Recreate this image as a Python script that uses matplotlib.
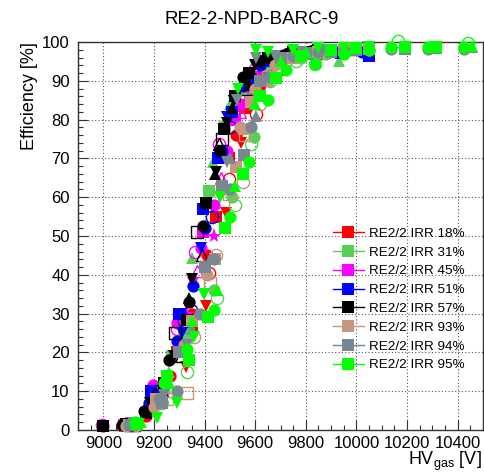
import matplotlib
matplotlib.use("Agg")
import matplotlib.pyplot as plt
from matplotlib.lines import Line2D
from matplotlib.ticker import MultipleLocator

plt.rcParams['font.family'] = ['Liberation Sans', 'DejaVu Sans']

title = "RE2-2-NPD-BARC-9"
labels = ["RE2/2 IRR 18%", "RE2/2 IRR 31%", "RE2/2 IRR 45%", "RE2/2 IRR 51%",
          "RE2/2 IRR 57%", "RE2/2 IRR 93%", "RE2/2 IRR 94%", "RE2/2 IRR 95%"]
colors = ["#ff0000", "#55d155", "#ff00ff", "#0000ff",
          "#000000", "#c6977c", "#788791", "#00ff00"]

# HV scans (V) and efficiencies (%) per chamber, one inner list per scan
irr18_hv = [[9075, 9170, 9265, 9352, 9410, 9470, 9525, 9580, 9650, 9750, 9850, 9950],
            [9085, 9185, 9290, 9352, 9444, 9495, 9560, 9620, 9700, 9800, 9900, 10000],
            [9095, 9200, 9325, 9404, 9483, 9545, 9622, 9690, 9790, 9890, 9990],
            [9105, 9215, 9310, 9416, 9495, 9602, 9700, 9850]]
irr18_eff = [[1.2, 3.5, 14, 30, 45, 63, 76, 86, 93, 96.5, 97.5, 98],
             [1.0, 5.0, 20, 26, 54.8, 70, 83, 91, 95.5, 97, 97.5, 98],
             [1.3, 6.5, 16.3, 32, 56, 74, 87, 94, 96.8, 97.5, 97.8],
             [1.5, 9, 22, 40.5, 64.6, 81.4, 93, 97]]
irr18_mk = ["o", "s", "v", "o_open"]

irr31_hv = [[9090, 9190, 9260, 9352, 9432, 9500, 9570, 9650, 9750, 9850, 9930],
            [9100, 9200, 9270, 9320, 9416, 9480, 9560, 9640, 9720, 9820],
            [9110, 9230, 9330, 9450, 9520, 9583, 9660, 9760, 9835],
            [9120, 9240, 9340, 9436, 9510, 9595, 9680, 9780, 9880]]
irr31_eff = [[1.0, 5, 15, 44.4, 69, 84, 92, 95.5, 96.5, 97.2, 95],
             [1.3, 7, 19, 25, 61.5, 78, 88, 94, 96, 97.5],
             [1.2, 7, 15, 34, 58, 73.6, 90, 95, 94.3],
             [1.5, 10, 24, 36, 60, 75.5, 91, 96, 97]]
irr31_mk = ["^", "s", "o_open", "o"]

irr45_hv = [[9000, 9095, 9195, 9293, 9384, 9436, 9490, 9545, 9600, 9700, 9800, 9900, 10000],
            [9080, 9190, 9300, 9392, 9470, 9520, 9580, 9650, 9750, 9850, 9950],
            [9090, 9200, 9300, 9356, 9460, 9510, 9570, 9640, 9740, 9840],
            [8995, 9090, 9180, 9290, 9364, 9456, 9525, 9600, 9700],
            [9200, 9330, 9436, 9560],
            [9100, 9220, 9330, 9370, 9464, 9540, 9620]]
irr45_eff = [[1, 1.8, 11.6, 27.6, 47, 58, 72, 84, 91, 96, 97.5, 98, 98.5],
             [1.2, 8, 29, 51, 71.6, 80, 90, 95, 97, 97.8, 98],
             [1.0, 9, 22, 38, 60, 79.7, 88, 94, 96.8, 97.6],
             [1.2, 1.5, 6, 26, 46, 73.6, 83, 93, 96.5],
             [7, 30, 50, 84],
             [1.2, 8, 28, 41, 65, 82, 92]]
irr45_mk = ["o", "s", "v", "o_open", "*", "^_open"]

irr51_hv = [[8998, 9090, 9190, 9298, 9392, 9455, 9510, 9570, 9640, 9740, 9840, 9940, 10050],
            [9080, 9180, 9293, 9356, 9400, 9470, 9551, 9620, 9720, 9820, 9920, 10020],
            [9100, 9200, 9310, 9384, 9490, 9516, 9580, 9660, 9760, 9860, 9960],
            [9105, 9210, 9320, 9345, 9430, 9500, 9580, 9680]]
irr51_eff = [[1, 1.5, 10, 30, 57, 70, 82, 90, 95, 97, 97.5, 97.2, 96.5],
             [1.2, 7, 23, 37, 52, 72, 88.6, 94, 96.5, 97.5, 97.3, 97.5],
             [1.3, 9, 25, 47, 80.6, 84.7, 92, 95.5, 97, 97.8, 97],
             [1.5, 10, 28, 31, 55, 78, 91, 96]]
irr51_mk = ["s", "o", "v", "o_open"]

irr57_hv = [[9000, 9090, 9170, 9238, 9330, 9404, 9476, 9520, 9575, 9650, 9750, 9850],
            [9075, 9160, 9260, 9340, 9392, 9460, 9551, 9620, 9720, 9820],
            [9085, 9185, 9280, 9352, 9444, 9490, 9516, 9600, 9700, 9800, 9900],
            [9100, 9200, 9300, 9337, 9440, 9510, 9575, 9670, 9770, 9870],
            [9110, 9220, 9285, 9372, 9470, 9560],
            [9120, 9230, 9305, 9390, 9456]]
irr57_eff = [[1, 1.5, 4.4, 12, 28.4, 58.6, 77.5, 86, 92, 96, 97.5, 98],
             [1.3, 5, 18, 33, 52.5, 72, 91, 95, 97, 97.8],
             [1.0, 7, 19, 39, 66.6, 79, 84.7, 94, 96.5, 97.5, 98],
             [1.2, 8, 20, 34, 66, 83, 89, 96, 97, 97.8],
             [1.5, 9, 25, 51, 75, 88],
             [1.3, 10, 19, 45, 73.6]]
irr57_mk = ["s", "o", "v", "^", "s_open", "^_open"]

irr93_hv = [[9100, 9210, 9300, 9350, 9440, 9523, 9555, 9583, 9650, 9750, 9850, 9950, 10050],
            [9090, 9200, 9320, 9410, 9480, 9540, 9600, 9680, 9780, 9880, 9980],
            [9120, 9250, 9330, 9420, 9495, 9560, 9650],
            [9130, 9260, 9360, 9445, 9550, 9620, 9720]]
irr93_eff = [[1.2, 8, 20, 28, 44, 67.7, 77.5, 84.5, 90, 96, 97.5, 98, 98.2],
             [1.0, 6, 22, 40, 62, 78, 88, 94, 97, 97.8, 98],
             [1.5, 8, 9.5, 38, 60.7, 76, 91],
             [1.3, 10, 24, 45, 64, 84, 95]]
irr93_mk = ["s", "o", "s_open", "o_open"]

irr94_hv = [[9100, 9220, 9293, 9380, 9436, 9500, 9583, 9650, 9750, 9850, 9950, 10050, 10138, 10284, 10424],
            [9110, 9230, 9300, 9400, 9470, 9555, 9620, 9700, 9800, 9900, 10000, 10190, 10316],
            [9120, 9240, 9330, 9397, 9490, 9530, 9602, 9680, 9780, 9880],
            [9130, 9260, 9350, 9420, 9500, 9602, 9700, 9800, 9900, 10455]]
irr94_eff = [[1.3, 8, 10, 30, 44, 62, 78, 91, 96.5, 97.5, 97.8, 98, 98.3, 98.3, 98.3],
             [1.2, 7, 20, 42, 63, 71, 90, 96, 97.2, 97.5, 98, 98.3, 98.5],
             [1.5, 9, 22, 35, 69, 85, 96, 96.5, 97.5, 98],
             [1.5, 12, 26, 44, 70, 81, 95, 97, 97.8, 98.6]]
irr94_mk = ["o", "s", "v", "^"]

irr95_hv = [[9125, 9240, 9330, 9436, 9500, 9575, 9650, 9722, 9835, 9950, 10050, 10138, 10284, 10424],
            [9135, 9250, 9340, 9415, 9480, 9550, 9620, 9682, 9780, 9900, 10000, 10190, 10316],
            [9140, 9213, 9293, 9360, 9397, 9460, 9531, 9602, 9650, 9750, 9850, 9950, 10050],
            [9150, 9260, 9350, 9450, 9520, 9600, 9700, 9800, 9900, 10000, 10455],
            [10166, 10440]]
irr95_eff = [[2, 12, 21, 31, 55, 69, 85, 92.8, 94.3, 97, 98, 98.7, 98.7, 98.8],
             [1.5, 14, 18, 29, 52, 66, 86, 90.7, 96.5, 98, 98.4, 98.6, 98.6],
             [1.5, 3, 7, 24, 35, 60, 87.8, 98, 97.5, 98, 98.5, 98.5, 98.6],
             [2, 12, 28, 36, 63, 84, 95, 97.5, 98.2, 98.5, 99],
             [100.3, 99.8]]
irr95_mk = ["o", "s", "v", "^", "o_open"]

series_hv = [irr18_hv, irr31_hv, irr45_hv, irr51_hv, irr57_hv, irr93_hv, irr94_hv, irr95_hv]
series_eff = [irr18_eff, irr31_eff, irr45_eff, irr51_eff, irr57_eff, irr93_eff, irr94_eff, irr95_eff]
series_mk = [irr18_mk, irr31_mk, irr45_mk, irr51_mk, irr57_mk, irr93_mk, irr94_mk, irr95_mk]

W, H = 484, 474
fig = plt.figure(figsize=(W / 100, H / 100), dpi=100)
ax = fig.add_axes([78 / W, 1 - 430 / H, (483 - 78) / W, (430 - 42) / H])

sizes = {"o": 8.8, "s": 8.2, "v": 9.2, "^": 9.2, "*": 11.0}
for c, hvs, effs, mks in zip(colors, series_hv, series_eff, series_mk):
    for hv, eff, mk in zip(hvs, effs, mks):
        base = mk.split("_")[0]
        ms = sizes[base]
        if mk.endswith("_open"):
            ax.plot(hv, eff, ls="none", marker=base, ms=ms, mfc="none", mec=c,
                    mew=1.0, clip_on=False, zorder=3)
        else:
            ax.plot(hv, eff, ls="none", marker=base, ms=ms, mfc=c, mec=c,
                    mew=0.0, clip_on=False, zorder=3)

ax.set_xlim(8900, 10500)
ax.set_ylim(0, 100)
ax.xaxis.set_major_locator(MultipleLocator(200))
ax.xaxis.set_minor_locator(MultipleLocator(50))
ax.yaxis.set_major_locator(MultipleLocator(10))
ax.yaxis.set_minor_locator(MultipleLocator(2))
ax.tick_params(which="both", direction="in", top=False, right=False,
               labelsize=12, width=0.8, color="#333333")
ax.tick_params(which="major", length=7)
ax.tick_params(which="minor", length=3.8)
ax.tick_params(axis="y", pad=6)
ax.tick_params(axis="x", pad=4)
ax.grid(True, which="major", color="#555555", linestyle=(0, (1, 2)), linewidth=0.8)
ax.set_axisbelow(True)
for sp in ax.spines.values():
    sp.set_linewidth(1.0)
    sp.set_color("#333333")

fig.text(252 / W, 1 - 20 / H, title, ha="center", va="center", fontsize=13.5)
fig.text(30 / W, 1 - 42 / H, "Efficiency [%]", rotation=90, ha="center",
         va="top", fontsize=13)
fig.text(482 / W, 1 - 465 / H, r"HV$_{\mathregular{gas}}$ [V]", ha="right",
         va="baseline", fontsize=13)

handles = [Line2D([0], [0], color=c, lw=1.0, marker="s", ms=9, mfc=c, mec=c, mew=0)
           for c in colors]
ax.legend(handles, labels, loc="upper left",
          bbox_to_anchor=(333 / W, 1 - 227.5 / H), bbox_transform=fig.transFigure,
          frameon=False, borderpad=0, borderaxespad=0, handlelength=2.3,
          handletextpad=0.35, labelspacing=0.47, fontsize=9.7)

fig.savefig("out.png", dpi=100)
